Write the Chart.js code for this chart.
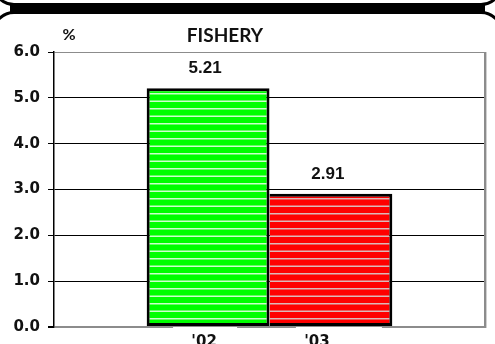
<!DOCTYPE html>
<html>
<head>
<meta charset="utf-8">
<title>Fishery</title>
<script src="https://cdn.jsdelivr.net/npm/chart.js@4.4.0/dist/chart.umd.min.js"></script>
<style>
  html, body { margin: 0; padding: 0; background: #fff; overflow: hidden; }
  #wrap { position: relative; width: 495px; height: 344px; overflow: hidden; background: #fff; }
  /* rounded panel frames at the top edge */
  .panel { position: absolute; left: -8px; right: -8px; border: 3px solid #000; border-radius: 22px; box-sizing: border-box; }
  .panel.upper { top: -60px; height: 66px; }
  .panel.lower { top: 11px; height: 420px; }
  .band { position: absolute; left: 10px; right: 10px; top: 5px; height: 7px; background: #000; }
  #chart { position: absolute; left: 0; top: 0; }
</style>
</head>
<body>
<div id="wrap">
  <div class="panel upper"></div>
  <div class="panel lower"></div>
  <div class="band"></div>
  <canvas id="chart" width="495" height="344"></canvas>
</div>
<script>
const years = ["'02", "'03"];
const shares = [5.21, 2.91];
const barColors = ["#00ff00", "#ff0000"];
const stripeColors = ["#ccffcc", "#dcb8b8"];
const yMin = 0;
const yMax = 6;
const yStep = 1;

// horizontal pinstripe fill for the bars
function stripes(base, line) {
  const c = document.createElement("canvas");
  c.width = 8;
  c.height = 15;
  const g = c.getContext("2d");
  g.fillStyle = base;
  g.fillRect(0, 0, 8, 15);
  g.fillStyle = line;
  g.fillRect(0, 3, 8, 1.5);
  g.fillRect(0, 10.5, 8, 1.5);
  return g.createPattern(c, "repeat");
}

const datasets = years.map((yr, i) => ({
  label: yr,
  data: [shares[i]],
  backgroundColor: stripes(barColors[i], stripeColors[i]),
  borderColor: "#000",
  borderWidth: i === 0 ? 3 : { top: 3, right: 3, bottom: 3, left: 0 },
  borderSkipped: false,
}));

const tickFont = { family: "DejaVu Sans", weight: "bold", size: 15 };

const decorations = {
  id: "decorations",
  afterDatasetsDraw(chart) {
    const { ctx, chartArea } = chart;
    ctx.save();
    // right frame of the plot
    ctx.fillStyle = "#8c8c8c";
    ctx.fillRect(chartArea.right - 1, chartArea.top, 2, chartArea.bottom - chartArea.top + 1);
    ctx.fillStyle = "#d0d0d0";
    ctx.fillRect(chartArea.right + 1, chartArea.top, 1, chartArea.bottom - chartArea.top + 1);

    // value labels above the bars
    ctx.fillStyle = "#111";
    ctx.font = "bold 17px 'Liberation Sans', Arial, sans-serif";
    ctx.textAlign = "center";
    ctx.textBaseline = "alphabetic";
    chart.data.datasets.forEach((ds, i) => {
      const bar = chart.getDatasetMeta(i).data[0];
      ctx.fillText(shares[i].toFixed(2), bar.x - 3, bar.y - 15);
    });

    // year labels under the bars
    ctx.font = "bold 15px 'DejaVu Sans', sans-serif";
    chart.data.datasets.forEach((ds, i) => {
      const bar = chart.getDatasetMeta(i).data[0];
      ctx.fillStyle = "#fff";
      ctx.fillRect(bar.x - 35, chartArea.bottom, 64 + i * 22, 20);
      ctx.fillStyle = "#111";
      ctx.fillText(ds.label, bar.x - 4 - i * 10, chartArea.bottom + 19);
    });

    // heading and unit
    ctx.font = "bold 19px Lato, sans-serif";
    ctx.fillText("FISHERY", 225, 42);
    ctx.font = "bold 16px Lato, sans-serif";
    ctx.fillText("%", 69, 40);
    ctx.restore();
  },
};

new Chart(document.getElementById("chart"), {
  type: "bar",
  data: { labels: [""], datasets: datasets },
  options: {
    responsive: false,
    animation: false,
    devicePixelRatio: 1,
    layout: { padding: { top: 52, right: 10, bottom: 13, left: 0 } },
    datasets: { bar: { categoryPercentage: 0.57, barPercentage: 1 } },
    plugins: {
      legend: { display: false },
      tooltip: { enabled: false },
      title: { display: false },
    },
    scales: {
      x: { display: false },
      y: {
        min: yMin,
        max: yMax,
        afterFit: (scale) => { scale.width = 54; },
        ticks: {
          stepSize: yStep,
          color: "#111",
          font: tickFont,
          padding: 8,
          callback: (v) => Number(v).toFixed(1),
        },
        grid: {
          color: (c) => (c.tick && (c.tick.value === yMin || c.tick.value === yMax) ? "#8c8c8c" : "#000"),
          lineWidth: (c) => (c.tick && c.tick.value === yMin ? 2 : 1),
          tickLength: 6,
          tickColor: "#000",
        },
        border: { color: "#000", width: 1.5 },
      },
    },
  },
  plugins: [decorations],
});
</script>
</body>
</html>
